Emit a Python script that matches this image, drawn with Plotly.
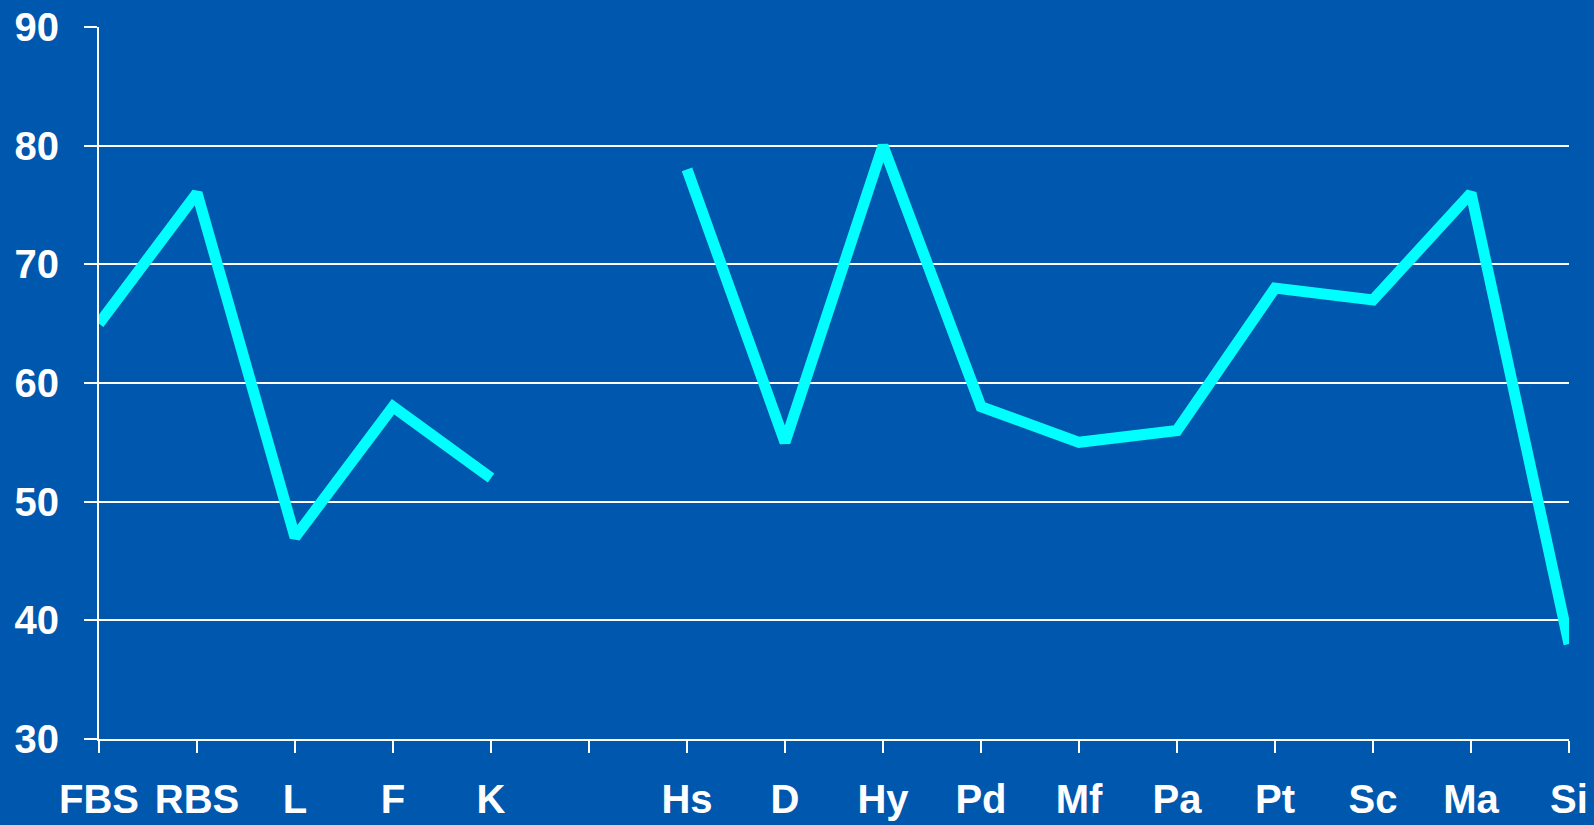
import plotly.graph_objects as go

# Scale labels along the x axis; the blank entry leaves a gap between the two groups
categories = ["FBS", "RBS", "L", "F", "K", " ", "Hs", "D", "Hy", "Pd", "Mf", "Pa", "Pt", "Sc", "Ma", "Si"]
scores = [65, 76, 47, 58, 52, None, 78, 55, 80, 58, 55, 56, 68, 67, 76, 38]
y_ticks = [30, 40, 50, 60, 70, 80, 90]

bg = "#0057AE"
white = "#FFFFFF"
label_font = dict(family="Liberation Sans, Arial, sans-serif", size=40, color=white, weight="bold")

fig = go.Figure(
    go.Scatter(
        x=categories,
        y=scores,
        mode="lines",
        line=dict(color="#00FFFF", width=11),
        connectgaps=False,
        hoverinfo="x+y",
    )
)

fig.update_layout(
    width=1594,
    height=825,
    paper_bgcolor=bg,
    plot_bgcolor=bg,
    margin=dict(l=99, r=25, t=27, b=86),
    showlegend=False,
    font=label_font,
)

fig.update_xaxes(
    type="category",
    categoryorder="array",
    categoryarray=categories,
    range=[0, 15],
    automargin=False,
    showgrid=False,
    showline=True,
    linecolor=white,
    linewidth=2,
    ticks="outside",
    ticklen=12,
    tickwidth=2,
    tickcolor=white,
    tickfont=label_font,
    ticklabelstandoff=12,
    zeroline=False,
)

fig.update_yaxes(
    range=[30, 90],
    tickvals=y_ticks,
    automargin=False,
    showgrid=True,
    gridcolor=white,
    gridwidth=2,
    showline=True,
    linecolor=white,
    linewidth=2,
    ticks="outside",
    ticklen=13,
    tickwidth=2,
    tickcolor=white,
    tickfont=label_font,
    ticklabelstandoff=17,
    zeroline=False,
)

fig.write_html("out.html")
